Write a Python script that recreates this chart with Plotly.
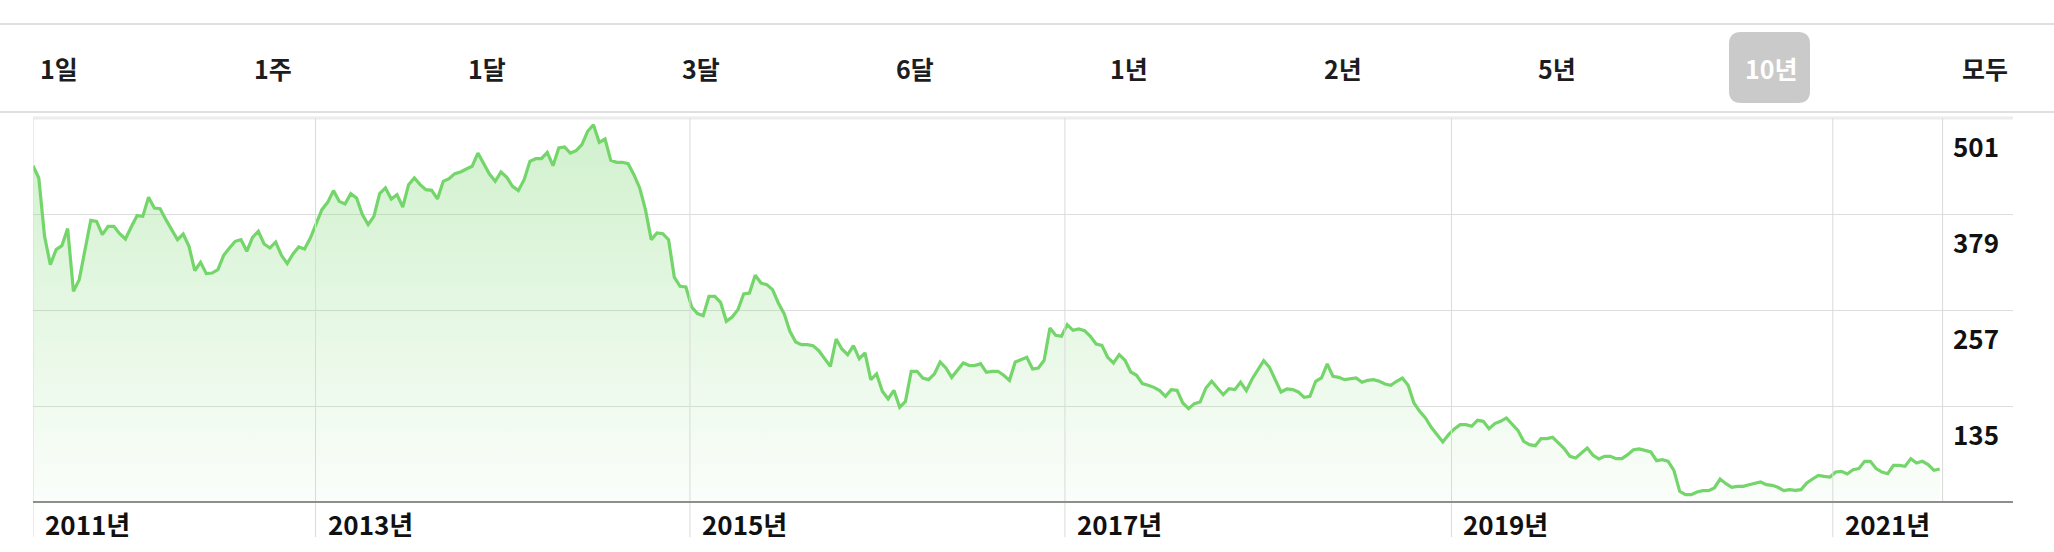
import plotly.graph_objects as go

# ---------------- data ----------------
range_labels = ["1일", "1주", "1달", "3달", "6달", "1년", "2년", "5년", "10년", "모두"]
selected_range = "10년"

year_labels = ["2011년", "2013년", "2015년", "2017년", "2019년", "2021년"]
year_pos = [0, 48.9, 113.7, 178.6, 245.5, 311.5]   # point index where each year starts

price_ticks = [501, 379, 257, 135]

prices_2011_2013 = [
    440.4, 424.8, 350.6, 314.6, 333.7, 338.8, 360.4, 280.7, 295.6, 333.7,
    371.0, 369.7, 352.7, 363.3, 363.3, 354.0, 347.2, 362.5, 376.9, 376.0,
    400.2, 386.6, 385.8, 371.8, 358.3, 346.4, 353.6, 337.9, 307.0, 317.6,
    303.2, 304.0, 308.3, 326.5, 335.8, 344.3, 346.4, 331.6, 349.4, 357.0,
    340.9, 335.8, 343.4, 326.5, 315.9, 328.2, 337.1, 334.5, 348.5, 365.5,
    384.5, 393.8, 408.7, 395.1, 391.7, 404.9, 399.3, 378.2, 365.5, 376.0,
    404.9, 412.1, 398.1, 403.6, 387.9, 416.3, 424.8, 416.3, 409.9, 409.1,
    398.1, 420.5, 423.9, 430.3, 432.4, 436.2, 439.6, 456.5, 442.6, 429.8,
    420.5, 432.4, 425.6, 414.2, 408.7,
]
prices_2014_2016 = [
    422.6, 445.9, 449.3, 449.3, 457.4, 440.4, 462.9, 464.2, 456.5, 459.5,
    467.1, 484.1, 492.5, 470.1, 474.3, 447.2, 444.7, 444.7, 443.0, 429.0,
    412.1, 384.5, 346.4, 354.9, 354.0, 346.4, 298.5, 287.1, 286.2, 260.8,
    252.4, 249.8, 274.4, 274.4, 266.8, 242.6, 248.1, 257.4, 277.3, 278.6,
    301.1, 291.3, 289.2, 282.9, 265.9, 252.4, 229.9, 216.4, 213.0, 213.0,
    211.7, 205.3, 196.0, 185.4, 220.2, 207.5, 200.3, 211.7, 195.2, 202.4,
    168.5, 175.7, 153.7, 143.9, 154.9, 133.3, 140.9, 179.1, 179.1, 170.6,
    168.5, 175.7, 190.9, 183.3, 171.4, 181.2, 189.7, 186.7, 186.3, 188.8,
    177.8, 179.1, 179.1,
]
prices_2016_2019 = [
    174.0, 167.6, 190.9, 193.9, 196.9, 182.0, 183.3, 193.1, 234.1, 224.8,
    223.6, 238.4, 231.2, 232.9, 230.8, 223.6, 213.8, 212.1, 196.9, 189.7,
    200.3, 193.1, 178.2, 174.0, 163.4, 161.3, 158.7, 154.5, 147.3, 155.8,
    154.9, 138.8, 131.6, 138.0, 140.1, 157.9, 166.4, 157.9, 149.4, 157.1,
    155.8, 165.1, 154.5, 169.3, 181.2, 192.6, 184.2, 169.3, 152.8, 156.6,
    155.8, 152.8, 146.0, 147.3, 166.4, 170.6, 188.4, 172.7, 171.4, 168.5,
    169.8, 170.6, 165.1, 167.6, 168.5, 166.4, 163.0, 161.3, 166.4, 170.6,
    161.3, 138.8, 128.2, 119.8, 107.9, 98.6, 89.3, 98.6, 105.8, 111.3,
    111.3, 109.2, 116.8,
]
prices_2019_2021 = [
    115.5, 106.2, 112.6, 115.5, 119.8, 111.3, 104.1, 90.1, 85.9, 84.6,
    93.5, 93.5, 95.2, 88.0, 80.8, 71.1, 68.9, 75.3, 81.6, 72.3,
    67.7, 71.1, 71.1, 68.1, 68.1, 73.2, 79.5, 80.4, 78.7, 76.6,
    65.5, 66.8, 64.7, 53.3, 26.6, 22.3, 22.3, 25.7, 27.4, 27.4,
    30.8, 42.2, 36.3, 31.7, 32.9, 32.9, 35.0, 37.2, 38.4, 35.0,
    34.2, 31.7, 27.4, 28.7, 27.8, 28.7, 37.2, 42.2, 46.9, 45.6,
    44.8, 51.1, 52.0, 48.6, 54.1, 55.4, 64.7, 64.7, 55.4, 51.1,
    49.0, 59.6, 59.6, 58.3, 68.1, 62.6, 64.7, 60.5, 53.3, 55.0,
]
prices = prices_2011_2013 + prices_2014_2016 + prices_2016_2019 + prices_2019_2021
idx = list(range(len(prices)))

# ---------------- layout geometry (pixels) ----------------
W, H = 2054, 552
PL, PR, PT, PB = 33, 2013, 118, 502   # plot area edges


def px_x(px):
    return (px - PL) / (PR - PL)


def px_y(py):
    return (PB - py) / (PB - PT)


GREEN = "rgb(116,213,106)"
FONT = "Noto Sans CJK KR, Noto Sans, sans-serif"

fig = go.Figure()
fig.add_trace(go.Scatter(
    x=idx, y=prices, mode="lines",
    line=dict(color=GREEN, width=3.2),
    fill="tozeroy",
    fillgradient=dict(
        type="vertical",
        start=13, stop=495,
        colorscale=[[0, "rgba(116,213,106,0.03)"], [1, "rgba(116,213,106,0.34)"]],
    ),
    hoverinfo="skip",
))

shapes = []
# top separator lines
for py in (24, 112):
    shapes.append(dict(type="line", xref="paper", yref="paper",
                       x0=px_x(0), x1=px_x(W), y0=px_y(py), y1=px_y(py),
                       line=dict(color="#d4d4d4", width=1.5)))
# plot top border
shapes.append(dict(type="line", xref="paper", yref="paper", x0=0, x1=1, y0=1, y1=1,
                   line=dict(color="#ececec", width=3)))
# year gridlines (extend into the label strip)
for xp in year_pos:
    shapes.append(dict(type="line", xref="x", yref="paper", x0=xp, x1=xp,
                       y0=px_y(537), y1=1, line=dict(color="#dadada", width=1)))
# "now" line at the end of the data
shapes.append(dict(type="line", xref="x", yref="paper",
                   x0=len(prices) - 0.5, x1=len(prices) - 0.5, y0=0, y1=1,
                   line=dict(color="#dadada", width=1)))
# bottom axis line
shapes.append(dict(type="line", xref="paper", yref="paper", x0=0, x1=1, y0=0, y1=0,
                   line=dict(color="#8e8e8e", width=2)))
# selected-range rounded box
bx0, bx1, by0, by1 = px_x(1729), px_x(1810), px_y(103), px_y(32)
rx, ry = 12 / (PR - PL), 12 / (PB - PT)
path = (f"M {bx0+rx},{by0} L {bx1-rx},{by0} Q {bx1},{by0} {bx1},{by0+ry} "
        f"L {bx1},{by1-ry} Q {bx1},{by1} {bx1-rx},{by1} L {bx0+rx},{by1} "
        f"Q {bx0},{by1} {bx0},{by1-ry} L {bx0},{by0+ry} Q {bx0},{by0} {bx0+rx},{by0} Z")
shapes.append(dict(type="path", xref="paper", yref="paper", path=path,
                   fillcolor="#cacaca", line=dict(width=0), layer="below"))

annotations = []
# range buttons
for i, lab in enumerate(range_labels):
    sel = lab == selected_range
    annotations.append(dict(
        xref="paper", yref="paper", x=px_x(59 + 214 * i), y=px_y(68),
        text=lab, showarrow=False, xanchor="center", yanchor="middle",
        font=dict(family=FONT, size=25, color="white" if sel else "#1d1d1f",
                  weight=700 if sel else 600),
    ))
# year labels
for xp, lab in zip(year_pos, year_labels):
    annotations.append(dict(
        xref="x", yref="paper", x=xp, y=px_y(523), xshift=10,
        text=lab, showarrow=False, xanchor="left", yanchor="middle",
        font=dict(family=FONT, size=26, color="#111111", weight=700),
    ))
# price labels
for v in price_ticks:
    annotations.append(dict(
        xref="paper", yref="y", x=px_x(1951), y=v, yshift=-27,
        text=str(v), showarrow=False, xanchor="left", yanchor="middle",
        font=dict(family=FONT, size=26, color="#111111", weight=700),
    ))

fig.update_layout(
    width=W, height=H,
    margin=dict(l=PL, r=W - PR, t=PT, b=H - PB, pad=0),
    paper_bgcolor="white", plot_bgcolor="white",
    showlegend=False,
    shapes=shapes, annotations=annotations,
    xaxis=dict(range=[0, (PR - PL) / ((1940 - 33.3) / (len(prices) - 1))],
               showgrid=False, zeroline=False, showticklabels=False,
               showline=False, fixedrange=True),
    yaxis=dict(range=[13, 501], tickvals=price_ticks[1:], showgrid=True,
               gridcolor="#dedede", gridwidth=1, zeroline=False,
               showticklabels=False, showline=False, fixedrange=True),
    hovermode=False,
)

fig.write_html("out.html", config={"displayModeBar": False},
               post_script="document.body.style.margin='0';document.body.style.overflow='hidden';")
